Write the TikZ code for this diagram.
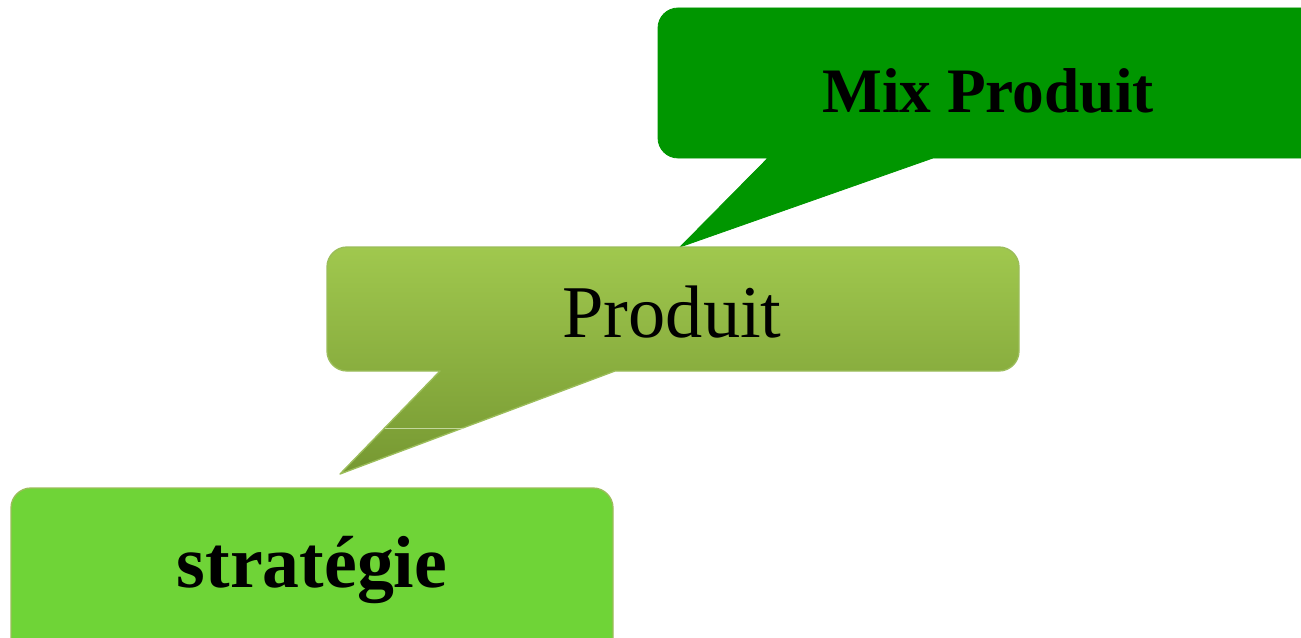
\documentclass[tikz,border=0pt]{standalone}
\usepackage{fontspec}
\setmainfont{Liberation Serif}
\definecolor{mixgreen}{RGB}{0,150,0}
\definecolor{prodtop}{RGB}{160,200,78}
\definecolor{prodbot}{RGB}{118,152,50}
\definecolor{stratgreen}{RGB}{111,212,55}
\definecolor{rimgreen}{RGB}{155,189,90}
\begin{document}
\begin{tikzpicture}
[x=0.75pt, y=-0.75pt, line join=round,
callmix/.style={fill=mixgreen, draw=mixgreen, line width=0.6pt},
callprod/.style={top color=prodtop, bottom color=prodbot, draw=rimgreen, line width=1pt},
callstrat/.style={fill=stratgreen, draw=rimgreen, line width=1pt},
boldlabel/.style={anchor=base, inner sep=0pt, font=\bfseries},
plainlabel/.style={anchor=base, inner sep=0pt}]

\clip (0,0) rectangle (1301,638);

% Mix Produit
\draw[callmix] (680,247) -- (768,158) -- (720,158) [rounded corners=15pt] -- (658,158) -- (658,8) -- (1340,8)
  -- (1340,158) -- (1000,158) [sharp corners] -- (933,158) -- cycle;
\node[boldlabel] (mix) at (988,113) {\fontsize{47.5pt}{50pt}\selectfont Mix Produit};

% Produit
\draw[callprod] (340,474) -- (615,371) -- (800,371) [rounded corners=15pt] -- (1019,371) -- (1019,247)
  -- (327,247) -- (327,371) -- (390,371) [sharp corners] -- (440,371) -- cycle;
\draw[rimgreen!60!white, line width=0.6pt] (384.7,428) -- (462.8,428);
\node[plainlabel] (prod) at (672,337) {\fontsize{55.8pt}{58pt}\selectfont Produit};

% strategie
\draw[callstrat] (300,488) [rounded corners=15pt] -- (11,488) -- (11,660) -- (613,660) -- (613,488) -- cycle;
\node[boldlabel] (strat) at (312,587) {\fontsize{55.3pt}{58pt}\selectfont stratégie};
\end{tikzpicture}
\end{document}
